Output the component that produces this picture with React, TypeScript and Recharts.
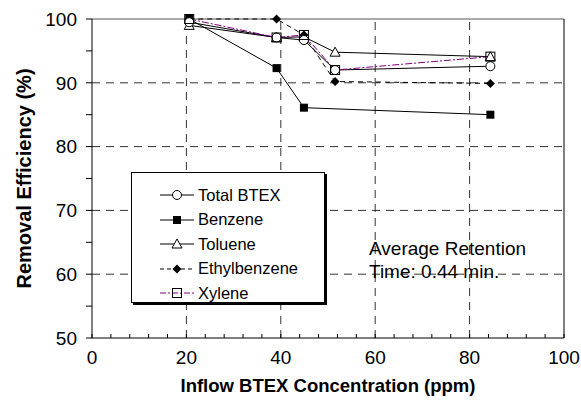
import React from 'react';
import { LineChart, Line, XAxis, YAxis, ReferenceLine } from 'recharts';

const concentration = [20.6, 39.1, 44.9, 51.5, 84.4];
const totalBtex = [99.5, 97.1, 96.7, 92.0, 92.6];
const benzene = [100, 92.3, 86.1, null, 85.0];
const toluene = [99.0, 97.1, 97.2, 94.8, 94.1];
const ethylbenzene = [100, 100, 97.5, 90.2, 89.9];
const xylene = [100, 97.1, 97.5, 92.0, 94.1];

const xTicks = [0, 4, 8, 12, 16, 20, 24, 28, 32, 36, 40, 44, 48, 52, 56, 60, 64, 68, 72, 76, 80, 84, 88, 92, 96, 100];
const yTicks = [50, 55, 60, 65, 70, 75, 80, 85, 90, 95, 100];
const xGrid = [20, 40, 60, 80];
const yGrid = [60, 70, 80, 90];

const data = concentration.map((x, i) => ({
  x,
  total: totalBtex[i],
  benzene: benzene[i],
  toluene: toluene[i],
  ethyl: ethylbenzene[i],
  xylene: xylene[i],
}));

const FONT = 'Arial, "Liberation Sans", sans-serif';
const PURPLE = '#800080';

type Shape = 'circle' | 'square' | 'triangle' | 'diamond' | 'openSquare';

const Marker = ({ cx, cy, shape }: { cx: number; cy: number; shape: Shape }) => {
  if (cx == null || cy == null) return null;
  switch (shape) {
    case 'circle':
      return <circle cx={cx} cy={cy} r={4.5} fill="#fff" stroke="#000" strokeWidth={1} />;
    case 'square':
      return <rect x={cx - 4} y={cy - 4} width={8} height={8} fill="#000" />;
    case 'triangle':
      return (
        <polygon
          points={`${cx},${cy - 5} ${cx - 5},${cy + 4} ${cx + 5},${cy + 4}`}
          fill="#fff"
          stroke="#000"
          strokeWidth={1}
        />
      );
    case 'diamond':
      return <polygon points={`${cx},${cy - 4.5} ${cx + 4.5},${cy} ${cx},${cy + 4.5} ${cx - 4.5},${cy}`} fill="#000" />;
    case 'openSquare':
      return <rect x={cx - 4.5} y={cy - 4.5} width={9} height={9} fill="none" stroke="#000" strokeWidth={1} />;
  }
  return null;
};

const dot = (shape: Shape) => (p: any) => <Marker key={p.key} cx={p.cx} cy={p.cy} shape={shape} />;

const legendItems: { name: string; shape: Shape; color: string; dash?: string }[] = [
  { name: 'Total BTEX', shape: 'circle', color: '#000' },
  { name: 'Benzene', shape: 'square', color: '#000' },
  { name: 'Toluene', shape: 'triangle', color: '#000' },
  { name: 'Ethylbenzene', shape: 'diamond', color: '#000', dash: '4 3' },
  { name: 'Xylene', shape: 'openSquare', color: PURPLE, dash: '6 2 2 2' },
];

const LegendBox = () => (
  <div
    style={{
      position: 'absolute',
      left: 131,
      top: 172,
      width: 194,
      height: 131,
      border: '1px solid #000',
      boxShadow: '2px 2px 0 #000',
      background: '#fff',
      fontFamily: FONT,
      fontSize: 16.5,
      paddingTop: 10,
      boxSizing: 'border-box',
    }}
  >
    {legendItems.map((it) => (
      <div key={it.name} style={{ display: 'flex', alignItems: 'center', height: 24.5 }}>
        <svg width={66} height={14} style={{ flex: 'none' }}>
          <line x1={28} x2={62} y1={7} y2={7} stroke={it.color} strokeWidth={1} strokeDasharray={it.dash} />
          <Marker cx={45} cy={7} shape={it.shape} />
        </svg>
        <span style={{ color: '#000' }}>{it.name}</span>
      </div>
    ))}
  </div>
);

const xTickFmt = (v: number) => (v % 20 === 0 ? String(v) : '');
const yTickFmt = (v: number) => (v % 10 === 0 ? String(v) : '');

export default function App() {
  return (
    <div style={{ position: 'absolute', left: 0, top: 0, width: 581, height: 401, background: '#fff' }}>
      <LineChart width={581} height={401} data={data} margin={{ top: 19, right: 17, bottom: 0, left: 0 }}>
        {yGrid.map((v) => (
          <ReferenceLine key={'y' + v} y={v} stroke="#333" strokeDasharray="8 6" />
        ))}
        {xGrid.map((v) => (
          <ReferenceLine key={'x' + v} x={v} stroke="#333" strokeDasharray="8 6" />
        ))}
        <ReferenceLine y={100} stroke="#555" />
        <ReferenceLine x={100} stroke="#000" />
        <XAxis
          type="number"
          dataKey="x"
          domain={[0, 100]}
          ticks={xTicks}
          interval={0}
          tickFormatter={xTickFmt}
          height={63}
          tickSize={-4}
          tickMargin={17}
          axisLine={{ stroke: '#000' }}
          tickLine={{ stroke: '#000' }}
          tick={{ fill: '#000', fontSize: 19, fontFamily: FONT }}
          label={{
            value: 'Inflow BTEX Concentration (ppm)',
            position: 'insideBottom',
            offset: 9,
            fill: '#000',
            fontSize: 18.5,
            fontWeight: 'bold',
            fontFamily: FONT,
          }}
        />
        <YAxis
          type="number"
          domain={[50, 100]}
          ticks={yTicks}
          interval={0}
          tickFormatter={yTickFmt}
          width={92}
          tickSize={6}
          tickMargin={9}
          axisLine={{ stroke: '#000' }}
          tickLine={{ stroke: '#000' }}
          tick={{ fill: '#000', fontSize: 19, fontFamily: FONT }}
          label={{
            value: 'Removal Efficiency (%)',
            angle: -90,
            position: 'insideLeft',
            offset: 24,
            style: { textAnchor: 'middle' },
            fill: '#000',
            fontSize: 20,
            fontWeight: 'bold',
            fontFamily: FONT,
          }}
        />
        <Line dataKey="benzene" stroke="#000" strokeWidth={1} connectNulls dot={dot('square')} isAnimationActive={false} />
        <Line dataKey="toluene" stroke="#000" strokeWidth={1} dot={dot('triangle')} isAnimationActive={false} />
        <Line dataKey="ethyl" stroke="#000" strokeWidth={1} strokeDasharray="5 4" dot={dot('diamond')} isAnimationActive={false} />
        <Line dataKey="total" stroke="#000" strokeWidth={1} dot={dot('circle')} isAnimationActive={false} />
        <Line dataKey="xylene" stroke={PURPLE} strokeWidth={1} strokeDasharray="7 2 2 2" dot={dot('openSquare')} isAnimationActive={false} />
      </LineChart>
      <LegendBox />
      <div
        style={{
          position: 'absolute',
          left: 369,
          top: 237,
          fontFamily: FONT,
          fontSize: 19,
          lineHeight: '23px',
          color: '#000',
          whiteSpace: 'nowrap',
        }}
      >
        <div>Average Retention</div>
        <div>Time: 0.44 min.</div>
      </div>
    </div>
  );
}
